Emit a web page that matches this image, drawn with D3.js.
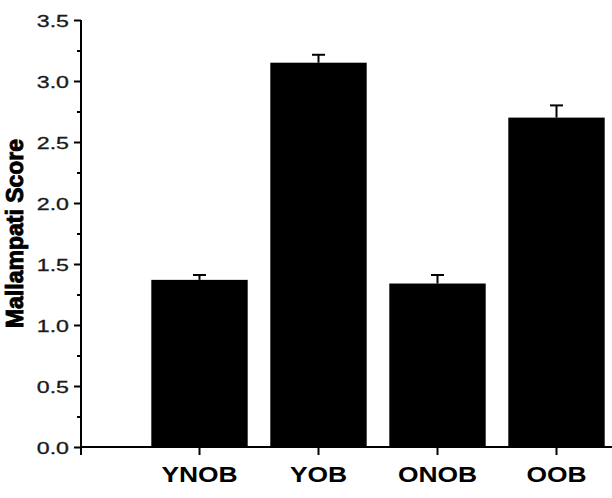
<!DOCTYPE html>
<html>
<head>
<meta charset="utf-8">
<script src="https://cdn.jsdelivr.net/npm/d3@7"></script>
<style>
  body { margin: 0; background: #fff; }
  svg { display: block; }
  text { font-family: Arial, "Liberation Sans", sans-serif; }
</style>
</head>
<body>
<div id="chart"></div>
<script>
const categories = ["YNOB", "YOB", "ONOB", "OOB"];
const means = [1.37, 3.15, 1.34, 2.70];
const errors = [0.04, 0.065, 0.07, 0.10];
const yTicks = [0, 0.5, 1.0, 1.5, 2.0, 2.5, 3.0, 3.5];
const yMinorTicks = [0.25, 0.75, 1.25, 1.75, 2.25, 2.75, 3.25];

const width = 612, height = 498;
const margin = { left: 81, top: 20, bottom: 51 };

const svg = d3.select("#chart").append("svg")
    .attr("width", width)
    .attr("height", height);

const y = d3.scaleLinear()
    .domain([0, 3.5])
    .range([height - margin.bottom, margin.top]);

const x = d3.scaleBand()
    .domain(categories)
    .range([140, 616])
    .paddingInner(0.19)
    .paddingOuter(0.095);

const data = categories.map((c, i) => ({ name: c, mean: means[i], err: errors[i] }));

// bars
svg.append("g").selectAll("rect")
    .data(data)
    .enter().append("rect")
        .attr("x", d => x(d.name))
        .attr("width", x.bandwidth())
        .attr("y", d => y(d.mean))
        .attr("height", d => y(0) - y(d.mean))
        .attr("fill", "#000");

// error bars (upper only)
let errG = svg.append("g").attr("stroke", "#000").attr("stroke-width", 2);
errG.selectAll("line.stem")
    .data(data)
    .enter().append("line")
        .attr("class", "stem")
        .attr("x1", d => x(d.name) + x.bandwidth() / 2)
        .attr("x2", d => x(d.name) + x.bandwidth() / 2)
        .attr("y1", d => y(d.mean))
        .attr("y2", d => y(d.mean + d.err));
errG.selectAll("line.cap")
    .data(data)
    .enter().append("line")
        .attr("class", "cap")
        .attr("x1", d => x(d.name) + x.bandwidth() / 2 - 6.5)
        .attr("x2", d => x(d.name) + x.bandwidth() / 2 + 6.5)
        .attr("y1", d => y(d.mean + d.err))
        .attr("y2", d => y(d.mean + d.err));

// x axis
let xAxisG = svg.append("g")
    .attr("transform", `translate(0,${y(0)})`)
    .call(d3.axisBottom(x).tickSize(8).tickSizeOuter(0));
xAxisG.select(".domain").remove();
xAxisG.append("line")
    .attr("x1", margin.left)
    .attr("x2", width)
    .attr("stroke", "#000")
    .attr("stroke-width", 2);
xAxisG.selectAll(".tick line").attr("stroke-width", 2);
xAxisG.selectAll(".tick text")
    .attr("y", 0)
    .attr("dy", 0)
    .attr("transform", "translate(0,35) scale(1.2,1)")
    .attr("font-size", 22)
    .attr("font-weight", "bold")
    .attr("fill", "#000");

// y axis
let yAxisG = svg.append("g")
    .attr("transform", `translate(${margin.left},0)`)
    .call(d3.axisLeft(y).tickValues(yTicks).tickSize(7).tickSizeOuter(0)
        .tickFormat(d3.format(".1f")));
yAxisG.select(".domain").remove();
yAxisG.append("line")
    .attr("y1", y(3.5))
    .attr("y2", y(0) + 8)
    .attr("stroke", "#000")
    .attr("stroke-width", 2);
yAxisG.selectAll(".tick line").attr("stroke-width", 2);
yAxisG.selectAll(".tick text")
    .attr("x", 0)
    .attr("dy", 0)
    .attr("transform", "translate(-12,6) scale(1.45,1)")
    .attr("font-size", 16)
    .attr("fill", "#1a1a1a")
    .attr("stroke", "#1a1a1a")
    .attr("stroke-width", 0.3);

let yMinorG = svg.append("g")
    .attr("transform", `translate(${margin.left},0)`)
    .call(d3.axisLeft(y).tickValues(yMinorTicks).tickSize(4).tickFormat(""));
yMinorG.select(".domain").remove();
yMinorG.selectAll(".tick line").attr("stroke-width", 2);

// y label
svg.append("text")
    .attr("transform", `translate(23,${(y(1.0) + y(2.5)) / 2}) rotate(-90)`)
    .attr("text-anchor", "middle")
    .attr("font-size", 23)
    .attr("font-weight", "bold")
    .attr("fill", "#000")
    .attr("stroke", "#000")
    .attr("stroke-width", 0.9)
    .text("Mallampati Score");
</script>
</body>
</html>
